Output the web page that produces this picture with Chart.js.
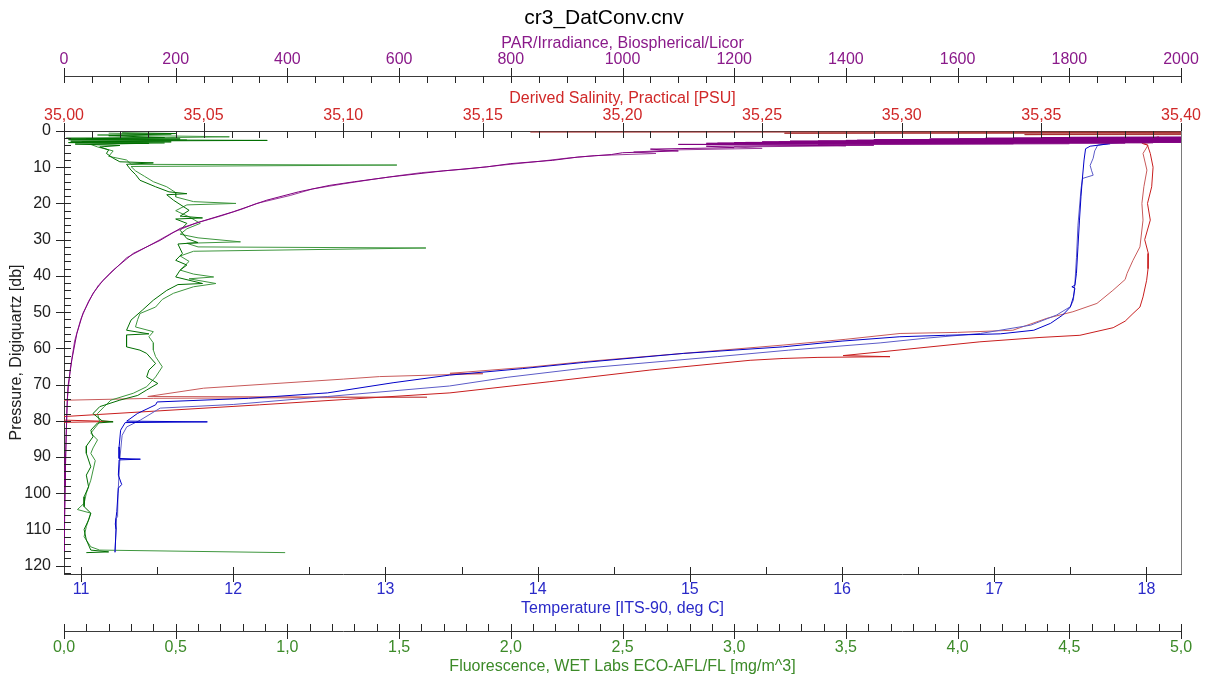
<!DOCTYPE html>
<html>
<head>
<meta charset="utf-8">
<title>cr3_DatConv.cnv</title>
<script src="https://cdn.jsdelivr.net/npm/chart.js@4.4.1/dist/chart.umd.min.js"></script>
<style>
  body { margin: 0; background: #fff; }
  canvas { display: block; }
</style>
</head>
<body>
<canvas id="chart" width="1208" height="682"></canvas>
<script>
// profile data: [pressure db, value]
const parDown = [
  [1.6, 2400], [1.8, 1750], [1.9, 2400], [2.0, 1650], [2.1, 2400], [2.2, 1550], [2.3, 2400],
  [2.4, 1450], [2.5, 2300], [2.6, 1400], [2.7, 2200], [2.8, 1300], [2.9, 2100], [3.0, 1250],
  [3.1, 2000], [3.2, 1200], [3.3, 1900], [3.4, 1150], [3.5, 1700], [3.7, 1100], [3.9, 1450],
  [4.2, 1150], [4.6, 1200], [5.0, 1050], [5.5, 1100], [6.0, 1000], [6.5, 980], [7.2, 920],
  [8.1, 875], [9.0, 800], [9.9, 757], [11.0, 680], [12.7, 583], [14.0, 520], [15.0, 476],
  [16.8, 420], [19.1, 363], [22.3, 303], [25.1, 243], [26.9, 208], [30.2, 172], [33.8, 124],
  [38.4, 88], [41.2, 70], [44.8, 52], [50.3, 34], [55.9, 23], [63.2, 14], [70.7, 7], [77.9, 5],
  [89.0, 3], [98.3, 2], [110.0, 0.5], [116.0, 0.3]
];
const parUp = [
  [1.5, 2400], [1.75, 1800], [1.85, 2400], [1.95, 1700], [2.05, 2400], [2.15, 1600],
  [2.25, 2350], [2.35, 1500], [2.45, 2300], [2.55, 1420], [2.65, 2250], [2.75, 1350],
  [2.85, 2150], [2.95, 1280], [3.05, 2050], [3.15, 1220], [3.25, 1950], [3.35, 1170],
  [3.5, 1800], [3.8, 1350], [4.1, 1400], [4.4, 1200], [4.8, 1250], [5.2, 1100], [5.8, 1020],
  [6.2, 1060], [6.8, 950], [7.5, 900], [8.4, 850], [9.5, 780], [10.5, 720], [11.5, 640],
  [12.3, 600], [13.3, 555], [14.6, 500], [16.0, 445], [17.8, 405], [20.0, 345], [21.5, 320],
  [23.5, 280], [25.5, 235], [28.0, 195], [31.0, 160], [35.0, 112], [39.5, 82], [42.5, 62],
  [47.0, 44], [52.0, 30], [58.0, 19], [66.0, 11], [74.0, 6], [84.0, 4], [94.0, 2.5],
  [104.0, 1.5], [116.0, 0.3]
];
const salSurface = [
  [0.3, 35.167], [0.3, 35.45], [0.6, 35.258], [0.6, 35.45], [1.0, 35.344], [1.0, 35.45]
];
const salDown = [
  [1.5, 35.392], [2.5, 35.389], [3.0, 35.392], [3.4, 35.386], [3.9, 35.388], [6.2, 35.389],
  [10.0, 35.390], [15.4, 35.3895], [20.0, 35.388], [24.6, 35.389], [30.0, 35.387],
  [33.8, 35.3883], [38.0, 35.3882], [41.2, 35.3877], [45.8, 35.3864], [48.6, 35.3853],
  [50.4, 35.3828], [52.5, 35.380], [54.3, 35.3757], [56.4, 35.3638], [57.0, 35.3495],
  [58.2, 35.328], [61.0, 35.2922], [62.0, 35.279], [62.3, 35.2958], [62.5, 35.270],
  [62.8, 35.2575], [63.3, 35.2457], [66.0, 35.2098], [69.2, 35.174], [72.3, 35.1382],
  [75.6, 35.07], [78.9, 34.9986], [79.6, 34.99], [80.2, 35.0175], [80.5, 34.995], [81.5, 34.96]
];
const salUp = [
  [1.8, 35.384], [2.5, 35.390], [3.2, 35.386], [3.9, 35.3882], [6.2, 35.3864], [10.8, 35.3878],
  [15.4, 35.3867], [20.0, 35.386], [24.6, 35.3864], [32.0, 35.3853], [35.7, 35.3828],
  [39.3, 35.3807], [41.0, 35.380], [44.0, 35.3756], [47.6, 35.3699], [49.9, 35.3613],
  [51.7, 35.352], [55.0, 35.3398], [55.6, 35.320], [55.9, 35.2994], [57.5, 35.280],
  [59.1, 35.2575], [61.4, 35.2217], [63.7, 35.1859], [65.1, 35.1679], [66.9, 35.1382],
  [67.0, 35.150], [67.8, 35.113], [68.5, 35.100], [71.0, 35.050], [73.3, 35.030],
  [73.5, 35.130], [73.8, 35.032], [74.3, 35.0021], [75.0, 34.985]
];
const tempDown = [
  [2.8, 17.81], [3.2, 17.70], [3.5, 17.76], [4.2, 17.63], [4.9, 17.60], [8.0, 17.59],
  [12.7, 17.58], [18.0, 17.57], [24.6, 17.56], [32.0, 17.55], [39.3, 17.54], [42.6, 17.53],
  [43.0, 17.51], [43.4, 17.53], [45.8, 17.52], [48.6, 17.50], [50.8, 17.45], [53.1, 17.37],
  [55.0, 17.26], [56.0, 17.04], [56.4, 16.68], [56.8, 16.38], [58.0, 16.00], [59.6, 15.61],
  [61.4, 14.96], [63.9, 14.30], [65.6, 13.90], [67.4, 13.42], [69.5, 13.05], [72.3, 12.62],
  [73.8, 12.10], [74.8, 11.50], [75.6, 11.49], [78.0, 11.37], [80.1, 11.30], [80.3, 11.83],
  [80.5, 11.29], [82.6, 11.26], [87.2, 11.25], [90.4, 11.25], [90.6, 11.39], [90.8, 11.25],
  [95.0, 11.245], [97.6, 11.267], [98.6, 11.245], [105.0, 11.235], [108.5, 11.225],
  [110.0, 11.23], [116.3, 11.223]
];
const tempUp = [
  [2.6, 17.76], [3.0, 17.86], [3.9, 17.68], [5.5, 17.66], [7.5, 17.65], [9.5, 17.63],
  [11.0, 17.64], [12.2, 17.65], [13.1, 17.58], [16.0, 17.57], [26.0, 17.55], [35.0, 17.54],
  [42.0, 17.53], [46.7, 17.52], [48.5, 17.50], [50.8, 17.41], [53.6, 17.24], [55.9, 16.91],
  [57.2, 16.55], [58.5, 16.25], [60.5, 15.65], [62.3, 15.18], [65.5, 14.30], [68.0, 13.80],
  [70.4, 13.42], [73.3, 12.62], [75.5, 12.00], [76.5, 11.52], [79.8, 11.39], [81.7, 11.30],
  [84.0, 11.27], [90.0, 11.256], [100.0, 11.243], [106.5, 11.24], [107.0, 11.23],
  [110.0, 11.23], [116.3, 11.223]
];
const fluorDown = [
  [0.5, 0.26], [0.7, 0.50], [1.3, 0.20], [1.8, 0.45], [2.0, 0.01], [2.2, 0.52], [2.4, 0.02],
  [2.6, 0.91], [2.8, 0.03], [3.0, 0.48], [3.2, 0.02], [3.4, 0.38], [3.6, 0.05], [4.0, 0.25],
  [4.4, 0.16], [5.2, 0.20], [6.2, 0.19], [7.5, 0.22], [8.5, 0.25], [8.8, 0.40], [9.2, 0.28],
  [10.8, 0.30], [12.0, 0.32], [13.6, 0.34], [15.4, 0.41], [16.8, 0.47], [17.3, 0.55],
  [17.6, 0.46], [19.1, 0.49], [21.9, 0.56], [23.5, 0.52], [24.0, 0.62], [24.3, 0.50],
  [25.5, 0.55], [27.4, 0.52], [29.7, 0.55], [30.8, 0.60], [31.2, 0.51], [33.8, 0.53],
  [35.7, 0.50], [37.0, 0.55], [38.4, 0.52], [40.3, 0.50], [42.1, 0.62], [42.4, 0.51],
  [44.0, 0.46], [46.7, 0.40], [49.5, 0.35], [52.2, 0.30], [55.0, 0.28], [56.0, 0.38],
  [56.3, 0.28], [59.6, 0.28], [60.5, 0.34], [61.4, 0.37], [64.2, 0.41], [66.0, 0.38],
  [67.9, 0.37], [69.7, 0.42], [71.5, 0.37], [73.0, 0.33], [74.3, 0.25], [76.1, 0.16],
  [78.0, 0.13], [80.0, 0.17], [80.3, 0.22], [80.6, 0.15], [82.6, 0.12], [84.4, 0.13],
  [87.0, 0.10], [89.0, 0.10], [92.7, 0.12], [95.0, 0.10], [98.2, 0.11], [101.0, 0.09],
  [103.7, 0.09], [105.5, 0.12], [107.4, 0.11], [110.0, 0.09], [112.9, 0.10], [115.7, 0.12],
  [116.2, 0.20], [116.4, 0.10]
];
const fluorUp = [
  [0.6, 0.20], [0.9, 0.48], [1.1, 0.15], [1.6, 0.74], [2.1, 0.10], [2.5, 0.55], [2.9, 0.08],
  [3.3, 0.45], [3.7, 0.12], [4.4, 0.15], [5.5, 0.22], [7.0, 0.20], [8.0, 0.28], [9.2, 0.30],
  [9.4, 1.49], [9.8, 0.30], [11.0, 0.32], [12.5, 0.36], [14.0, 0.40], [15.4, 0.46],
  [17.0, 0.50], [18.2, 0.50], [19.5, 0.58], [20.0, 0.77], [20.4, 0.55], [22.0, 0.50],
  [23.7, 0.56], [25.5, 0.61], [27.0, 0.55], [28.5, 0.52], [29.5, 0.60], [30.6, 0.79],
  [31.0, 0.55], [32.0, 0.60], [32.3, 1.62], [33.2, 0.58], [34.5, 0.52], [36.0, 0.56],
  [38.4, 0.52], [39.5, 0.58], [40.3, 0.67], [40.8, 0.56], [42.1, 0.68], [43.0, 0.58],
  [44.8, 0.49], [46.5, 0.44], [48.6, 0.41], [50.4, 0.34], [52.0, 0.33], [54.1, 0.32],
  [55.4, 0.40], [56.8, 0.38], [58.5, 0.40], [60.5, 0.40], [62.3, 0.41], [65.1, 0.44],
  [67.9, 0.41], [70.6, 0.37], [72.4, 0.31], [74.3, 0.21], [76.1, 0.18], [78.0, 0.15],
  [80.3, 0.16], [83.4, 0.12], [85.3, 0.15], [87.5, 0.13], [89.0, 0.12], [91.0, 0.14],
  [96.4, 0.12], [100.0, 0.10], [102.8, 0.09], [104.5, 0.06], [105.5, 0.12], [109.2, 0.10],
  [112.0, 0.09], [114.8, 0.12], [115.7, 0.16], [116.4, 0.99]
];

// axis ticks
const parTicks = [0, 200, 400, 600, 800, 1000, 1200, 1400, 1600, 1800, 2000];
const salTicks = [35.00, 35.05, 35.10, 35.15, 35.20, 35.25, 35.30, 35.35, 35.40];
const tempTicks = [11, 12, 13, 14, 15, 16, 17, 18];
const fluorTicks = [0, 0.5, 1.0, 1.5, 2.0, 2.5, 3.0, 3.5, 4.0, 4.5, 5.0];
const presTicks = [0, 10, 20, 30, 40, 50, 60, 70, 80, 90, 100, 110, 120];
const minorSteps = { xPar: 50, xSal: 0.01, xTemp: 0.5, xFluor: 0.1, y: 2 };

const FONT = "'Liberation Sans', Arial, sans-serif";
Chart.defaults.font.family = FONT;
Chart.defaults.font.size = 16;

function toPoints(arr) {
  return arr.map(([p, v]) => ({ x: v, y: p }));
}

function profile(arr, axis, color) {
  return {
    data: toPoints(arr),
    xAxisID: axis,
    yAxisID: "y",
    showLine: true,
    borderColor: color,
    borderWidth: 1,
    pointRadius: 0,
    tension: 0,
    fill: false,
  };
}

function comma(digits) {
  return (v) => Number(v).toFixed(digits).replace(".", ",");
}

function xAxis(pos, weight, height, ticks, labelColor, title, fmt, labelPad, titlePad) {
  return {
    type: "linear",
    position: pos,
    weight: weight,
    grid: { display: false, drawTicks: false },
    border: { display: true, color: "#3a3a3a", width: 1 },
    afterBuildTicks: (s) => { s.ticks = ticks.map((v) => ({ value: v })); },
    afterFit: (s) => { s.height = height; },
    ticks: {
      color: labelColor,
      padding: labelPad,
      maxRotation: 0,
      autoSkip: false,
      callback: fmt,
    },
    title: {
      display: true,
      text: title,
      color: labelColor,
      padding: titlePad,
    },
  };
}

// minor/major tick marks drawn through each scale
const tickMarks = {
  id: "tickMarks",
  afterDraw(chart) {
    const ctx = chart.ctx;
    const area = chart.chartArea;
    ctx.save();
    ctx.strokeStyle = "#262626";
    ctx.lineWidth = 1;
    Object.keys(minorSteps).forEach((id) => {
      const s = chart.scales[id];
      const step = minorSteps[id];
      const majors = s.ticks.map((t) => t.value);
      const n0 = Math.ceil(s.min / step - 1e-6);
      const n1 = Math.floor(s.max / step + 1e-6);
      for (let n = n0; n <= n1; n++) {
        const v = n * step;
        const isMajor = majors.some((m) => Math.abs(m - v) < step / 10);
        const px = Math.round(s.getPixelForValue(v)) + 0.5;
        ctx.beginPath();
        if (s.isHorizontal()) {
          const top = s.position === "top";
          const base = top ? s.bottom : s.top;
          const dir = top ? 1 : -1;
          ctx.moveTo(px, base - dir * (isMajor ? 8 : 0));
          ctx.lineTo(px, base + dir * 7);
        } else {
          const base = s.right;
          ctx.moveTo(base - (isMajor ? 8 : 0), px);
          ctx.lineTo(base + 7, px);
        }
        ctx.stroke();
      }
    });
    ctx.strokeStyle = "#7a7a7a";
    ctx.beginPath();
    ctx.moveTo(Math.round(area.right) + 0.5, area.top);
    ctx.lineTo(Math.round(area.right) + 0.5, area.bottom);
    ctx.stroke();
    ctx.restore();
  },
};

new Chart(document.getElementById("chart"), {
  type: "scatter",
  data: {
    datasets: [
      profile(parDown, "xPar", "#800080"),
      profile(parUp, "xPar", "#9a3a9a"),
      profile(tempDown, "xTemp", "#0000c8"),
      profile(tempUp, "xTemp", "#5c5cc8"),
      profile(fluorDown, "xFluor", "#006e00"),
      profile(fluorUp, "xFluor", "#3e963e"),
      profile(salSurface, "xSal", "#a83030"),
      profile(salDown, "xSal", "#c81e1e"),
      profile(salUp, "xSal", "#c85a5a"),
    ],
  },
  options: {
    responsive: false,
    animation: false,
    devicePixelRatio: 1,
    layout: { padding: 0 },
    plugins: {
      legend: { display: false },
      tooltip: { enabled: false },
      title: {
        display: true,
        text: "cr3_DatConv.cnv",
        color: "#000",
        font: { size: 21, weight: "normal", lineHeight: 1.2 },
        padding: { top: 5.4, bottom: 3.4 },
      },
    },
    scales: {
      y: {
        type: "linear",
        position: "left",
        reverse: true,
        min: 0,
        max: 122.3,
        grid: { display: false, drawTicks: false },
        border: { display: true, color: "#3a3a3a", width: 1 },
        afterBuildTicks: (s) => { s.ticks = presTicks.map((v) => ({ value: v })); },
        afterFit: (s) => { s.width = 64; },
        ticks: { color: "#202020", padding: 13, autoSkip: false },
        title: {
          display: true,
          text: "Pressure, Digiquartz [db]",
          color: "#202020",
          padding: { top: 7.4, bottom: 0 },
        },
      },
      // empty right margin box, keeps the frame off the canvas edge
      yMargin: {
        type: "linear",
        position: "right",
        grid: { display: false, drawTicks: false },
        border: { display: false },
        ticks: { display: false },
        afterFit: (s) => { s.width = 27; },
      },
      xSal: Object.assign(
        xAxis("top", 1, 55, salTicks, "#d02828", "Derived Salinity, Practical [PSU]",
          comma(2), 5.4, { top: 13.4, bottom: 0 }),
        { min: 35.0, max: 35.4 }
      ),
      xPar: Object.assign(
        xAxis("top", 2, 42, parTicks, "#8a1a8a", "PAR/Irradiance, Biospherical/Licor",
          (v) => String(v), 6.4, { top: 0.4, bottom: 0 }),
        { min: 0, max: 2000 }
      ),
      xTemp: Object.assign(
        xAxis("bottom", 1, 57, tempTicks, "#2a2ac8", "Temperature [ITS-90, deg C]",
          (v) => String(v), 6.4, { top: 0, bottom: 12.4 }),
        { min: 10.888, max: 18.227 }
      ),
      xFluor: Object.assign(
        xAxis("bottom", 2, 51, fluorTicks, "#3c8a28", "Fluorescence, WET Labs ECO-AFL/FL [mg/m^3]",
          comma(1), 7.4, { top: 0, bottom: 5.4 }),
        { min: 0, max: 5 }
      ),
    },
  },
  plugins: [tickMarks],
});
</script>
</body>
</html>
